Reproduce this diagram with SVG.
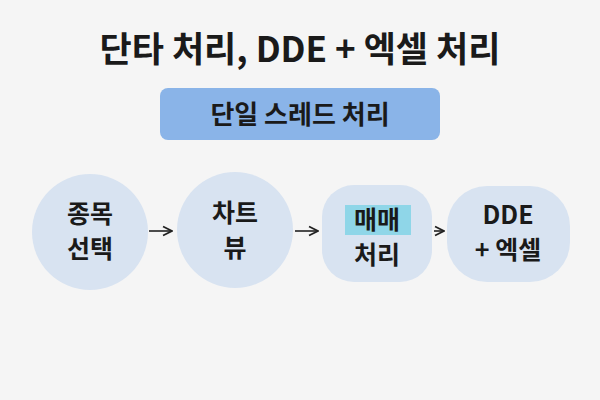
<svg xmlns="http://www.w3.org/2000/svg" width="600" height="400" viewBox="0 0 600 400">
<style>
text{font-family:"Noto Sans CJK KR","Noto Sans",sans-serif;font-weight:bold;fill:#1a1a1a;text-anchor:middle}
.n{fill:#d8e3f1}
.t{font-size:25px}
.c line{stroke:#222;stroke-width:1.6}
</style>
<defs><marker id="a" viewBox="0 0 10 10" refX="9" refY="5" markerWidth="7" markerHeight="7" orient="auto"><path d="M1 1L9 5L1 9" fill="none" stroke="#222" stroke-width="1.6"/></marker></defs>
<rect width="600" height="400" fill="#f5f5f5"/>
<text x="300" y="62" font-size="35">단타 처리, DDE + 엑셀 처리</text>
<g id="banner"><rect x="160" y="88" width="280" height="52" rx="8" fill="#8ab4e8"/><text x="300" y="124" font-size="26">단일 스레드 처리</text></g>
<g id="n1"><circle class="n" cx="90" cy="232" r="58"/><text class="t" x="90" y="223">종목</text><text class="t" x="90" y="258">선택</text></g>
<g id="n2"><circle class="n" cx="235" cy="230" r="58"/><text class="t" x="235" y="222">차트</text><text class="t" x="235" y="257">뷰</text></g>
<g id="n3"><rect class="n" x="322" y="185" width="110" height="97" rx="32"/><rect x="345" y="205" width="66" height="30" fill="#8fd6e8"/><text class="t" x="377" y="229">매매</text><text class="t" x="377" y="264">처리</text></g>
<g id="n4"><rect class="n" x="447" y="186" width="123" height="96" rx="40"/><text class="t" x="508" y="224">DDE</text><text class="t" x="508" y="259">+ 엑셀</text></g>
<g class="c"><line x1="149" y1="231" x2="172" y2="231" marker-end="url(#a)"/><line x1="295" y1="231" x2="318" y2="231" marker-end="url(#a)"/><line x1="434" y1="231" x2="444" y2="231" marker-end="url(#a)"/></g>
</svg>
